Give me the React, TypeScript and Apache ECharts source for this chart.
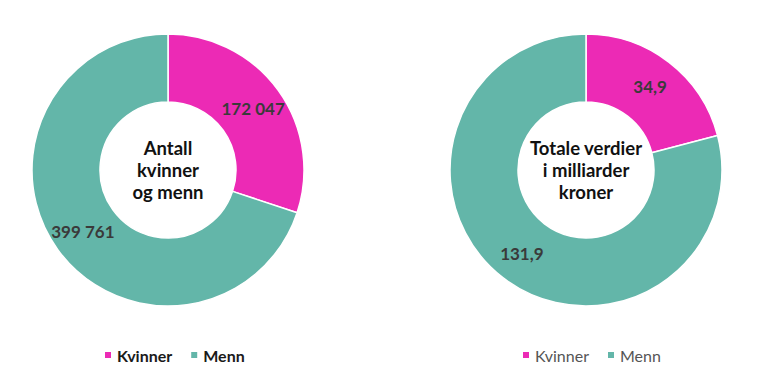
import React, { useEffect, useRef } from "react";
import * as echarts from "echarts";

const categories = ["Kvinner", "Menn"];
const antallValues = [172047, 399761];
const verdiValues = [34.9, 131.9];
const colors = ["#EC2AB5", "#63B6A9"];

const fmtAntall = (v: number) => String(v).replace(/\B(?=(\d{3})+(?!\d))/g, " ");
const fmtVerdi = (v: number) => v.toFixed(1).replace(".", ",");

export default function App() {
  const ref = useRef<HTMLDivElement>(null);
  useEffect(() => {
    if (!ref.current) return;
    const chart = echarts.init(ref.current, null, { renderer: "svg" });
    const labelStyle = {
      show: true,
      position: "inside",
      color: "#3a3a3a",
      fontFamily: "Lato",
      fontWeight: "bold",
      fontSize: 17,
    };
    const centerStyle = {
      align: "center",
      verticalAlign: "middle",
      fontFamily: "Lato",
      fontWeight: "bold",
      fontSize: 18.5,
      lineHeight: 22,
      fill: "#111111",
    };
    chart.setOption({
      animation: false,
      color: colors,
      legend: [
        {
          data: categories,
          left: 98,
          top: 342,
          icon: "rect",
          itemWidth: 8,
          itemHeight: 8,
          itemGap: 17,
          selectedMode: false,
          textStyle: { fontFamily: "Lato", fontWeight: "bold", fontSize: 16, color: "#1a1a1a" },
        },
        {
          data: categories,
          left: 516,
          top: 342,
          icon: "rect",
          itemWidth: 8,
          itemHeight: 8,
          itemGap: 17,
          selectedMode: false,
          textStyle: { fontFamily: "Lato", fontWeight: "normal", fontSize: 16, color: "#555555" },
        },
      ],
      graphic: [
        { type: "text", style: { ...centerStyle, x: 168, y: 170, text: "Antall\nkvinner\nog menn" } },
        { type: "text", style: { ...centerStyle, x: 586, y: 170, text: "Totale verdier\ni milliarder\nkroner" } },
      ],
      series: [
        {
          type: "pie",
          center: [168, 170],
          radius: [68, 136],
          startAngle: 90,
          clockwise: true,
          silent: true,
          itemStyle: { borderColor: "#ffffff", borderWidth: 1.5 },
          label: { ...labelStyle, formatter: (p: any) => fmtAntall(p.value) },
          labelLine: { show: false },
          data: categories.map((c, i) => ({ name: c, value: antallValues[i] })),
        },
        {
          type: "pie",
          center: [586, 170],
          radius: [68, 136],
          startAngle: 90,
          clockwise: true,
          silent: true,
          itemStyle: { borderColor: "#ffffff", borderWidth: 1.5 },
          label: { ...labelStyle, formatter: (p: any) => fmtVerdi(p.value) },
          labelLine: { show: false },
          data: categories.map((c, i) => ({ name: c, value: verdiValues[i] })),
        },
      ],
    });
    return () => chart.dispose();
  }, []);
  return (
    <div
      ref={ref}
      style={{ position: "fixed", left: 0, top: 0, width: 767, height: 370, background: "#ffffff" }}
    />
  );
}
